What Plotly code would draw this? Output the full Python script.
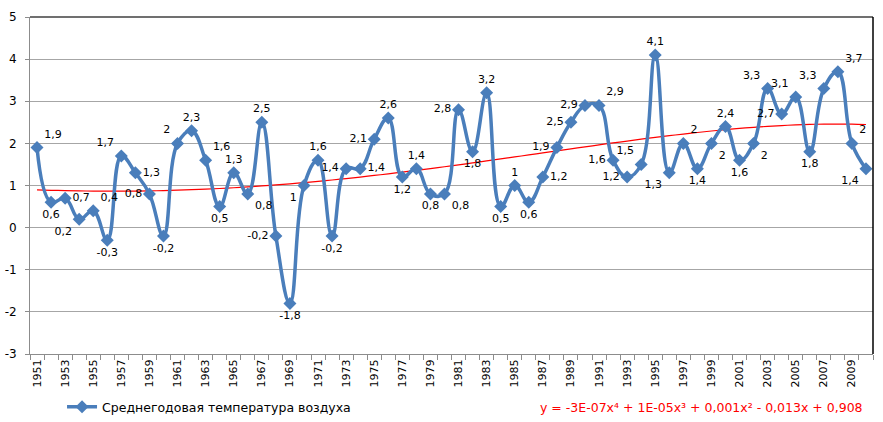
import numpy as np
import plotly.graph_objects as go

years = list(range(1951, 2011))
temps = [1.9, 0.6, 0.7, 0.2, 0.4, -0.3, 1.7, 1.3, 0.8, -0.2,
         2.0, 2.3, 1.6, 0.5, 1.3, 0.8, 2.5, -0.2, -1.8, 1.0,
         1.6, -0.2, 1.4, 1.4, 2.1, 2.6, 1.2, 1.4, 0.8, 0.8,
         2.8, 1.8, 3.2, 0.5, 1.0, 0.6, 1.2, 1.9, 2.5, 2.9,
         2.9, 1.6, 1.2, 1.5, 4.1, 1.3, 2.0, 1.4, 2.0, 2.4,
         1.6, 2.0, 3.3, 2.7, 3.1, 1.8, 3.3, 3.7, 2.0, 1.4]
label_pos = ["top right", "bottom center", "middle right", "bottom left", "top right",
             "bottom center", "top left", "middle right", "middle left", "bottom center",
             "top left", "top center", "top right", "bottom center", "top center",
             "bottom right", "top center", "middle left", "bottom center", "bottom left",
             "top center", "bottom center", "middle left", "middle right", "middle left",
             "top center", "bottom center", "top center", "bottom center", "bottom right",
             "middle left", "bottom center", "top center", "bottom center", "top center",
             "bottom center", "middle right", "middle left", "middle left", "middle left",
             "top right", "middle left", "middle left", "top left", "top center",
             "bottom left", "top right", "bottom center", "bottom right", "top center",
             "bottom center", "bottom right", "top left", "middle left", "top left",
             "bottom center", "top left", "top right", "top right", "bottom left"]
tick_years = list(range(1951, 2011, 2))
y_ticks = [-3, -2, -1, 0, 1, 2, 3, 4, 5]
y_tick_text = ["-3", "-2", "-1", "0", "1", "2", "3", "4", "5"]
series_name = "Среднегодовая температура воздуха"
equation = "y = -3E-07x⁴ + 1E-05x³ + 0,001x² - 0,013x + 0,908"

labels = [("%g" % v).replace(".", ",") for v in temps]

# polynomial (order 4) trend line, as in the original spreadsheet
idx = np.arange(1, len(years) + 1)
coef = np.polyfit(idx, temps, 4)
trend = np.polyval(coef, idx)

blue = "#4A7EBB"
font = "DejaVu Sans"

fig = go.Figure()
fig.add_trace(go.Scatter(
    x=years, y=trend, mode="lines", line=dict(color="#FF0000", width=1.2, shape="spline"),
    showlegend=False, hoverinfo="skip"))
fig.add_trace(go.Scatter(
    x=years, y=temps, mode="lines+markers+text", name=series_name,
    line=dict(color=blue, width=3.5, shape="spline", smoothing=1.2),
    marker=dict(symbol="diamond", size=10, color=blue),
    text=labels, textposition=label_pos,
    textfont=dict(family=font, size=11, color="#000000")))

fig.update_layout(
    width=883, height=422,
    margin=dict(l=30, r=10, t=17, b=68, autoexpand=False),
    paper_bgcolor="white", plot_bgcolor="white",
    font=dict(family=font, size=11, color="#000000"),
    showlegend=True,
    legend=dict(orientation="h", x=0.038, xanchor="left", y=-0.158, yanchor="middle",
                font=dict(family=font, size=12.5), itemwidth=30, bgcolor="rgba(0,0,0,0)"),
    xaxis=dict(range=[1950.5, 2010.5], tickmode="array", tickvals=tick_years,
               ticktext=[str(y) for y in tick_years], tickangle=-90, ticks="",
               automargin=False,
               showgrid=False, zeroline=False, showline=True, linecolor="#8C8C8C", linewidth=1,
               tickfont=dict(family=font, size=11),
               minor=dict(ticks="outside", tick0=1950.5, dtick=1, ticklen=5,
                          tickcolor="#8C8C8C", showgrid=False)),
    yaxis=dict(range=[-3, 5], tickmode="array", tickvals=y_ticks, ticktext=y_tick_text,
               showgrid=True, gridcolor="#A6A6A6",
               automargin=False, ticklabelstandoff=6,
               gridwidth=1, zeroline=False, showline=True, linecolor="#8C8C8C", linewidth=1,
               ticks="outside", ticklen=4, tickcolor="#8C8C8C",
               tickfont=dict(family=font, size=12)),
    annotations=[dict(text=equation, xref="paper", yref="paper", x=0.99, y=-0.158,
                      xanchor="right", yanchor="middle", showarrow=False,
                      font=dict(family=font, size=12.5, color="#FF0000"))],
    shapes=[dict(type="line", xref="paper", yref="paper", x0=0, x1=1, y0=1, y1=1,
                 line=dict(color="#404040", width=1.5)),
            dict(type="line", xref="paper", yref="paper", x0=1, x1=1, y0=0, y1=1,
                 line=dict(color="#000000", width=1.5))],
)

fig.write_html("out.html", config={"displayModeBar": False},
               post_script="document.body.style.margin='0';")
